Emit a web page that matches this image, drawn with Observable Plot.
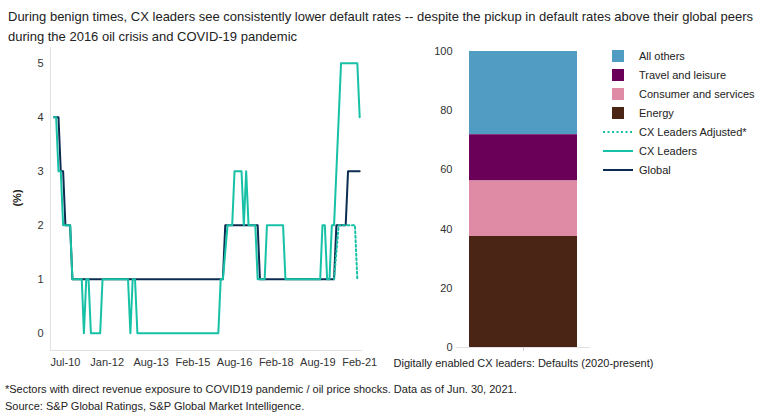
<!DOCTYPE html>
<html><head><meta charset="utf-8">
<script src="https://cdn.jsdelivr.net/npm/d3@7"></script>
<script src="https://cdn.jsdelivr.net/npm/@observablehq/plot@0.6"></script>
<style>
body{margin:0;background:#fff;font-family:"Liberation Sans",Arial,sans-serif;color:#222}
#wrap{position:relative;width:772px;height:417px;overflow:hidden;background:#fff}
.abs{position:absolute}
svg{overflow:visible}
.row{position:absolute;left:0;height:19px;display:flex;align-items:center;font-size:11px;white-space:nowrap}
.sw{width:30px;height:19px;display:flex;align-items:center;justify-content:center;margin-right:6px}
</style></head><body>
<div id="wrap">
  <div id="lineChart" class="abs" style="left:0;top:0"></div>
  <div id="barChart" class="abs" style="left:380px;top:0"></div>
  <div class="abs" style="left:8px;top:7px;font-size:13px;line-height:20px;white-space:nowrap">During benign times, CX leaders see consistently lower default rates -- despite the pickup in default rates above their global peers<br>during the 2016 oil crisis and COVID-19 pandemic</div>
  <div class="abs" style="left:17px;top:198px;width:0;height:0"><div style="position:absolute;transform:translate(-50%,-50%) rotate(-90deg);font-size:11px;font-weight:bold;white-space:nowrap">(%)</div></div>
  <div id="legend" class="abs" style="left:603px;top:46.5px;width:169px;height:140px"></div>
  <div class="abs" style="left:5px;top:380.5px;font-size:11px;line-height:17px;white-space:nowrap">*Sectors with direct revenue exposure to COVID19 pandemic / oil price shocks. Data as of Jun. 30, 2021.<br>Source: S&amp;P Global Ratings, S&amp;P Global Market Intelligence.</div>
</div>
<script>
// ---- Data ----
const cxDates = ["2010-02","2010-03","2010-04","2010-05","2010-06","2010-09","2010-10","2011-02","2011-03","2011-04","2011-05","2011-06","2011-10","2011-11","2012-10","2012-11","2012-12","2013-01","2013-02","2016-01","2016-02","2016-03","2016-05","2016-07","2016-08","2016-11","2016-12","2017-01","2017-02","2017-05","2017-06","2017-09","2017-10","2018-05","2018-06","2019-09","2019-10","2019-11","2019-12","2020-01","2020-02","2020-03","2020-06","2021-01","2021-02"];
const cxValues = [4,4,3,3,2,2,1,1,0,1,1,0,0,1,1,0,1,1,0,0,1,1,2,2,3,3,2,3,2,2,1,1,2,2,1,1,2,2,1,1,2,2,5,5,4];

const globalDates = ["2010-02","2010-04","2010-05","2010-06","2010-07","2010-09","2010-10","2016-03","2016-04","2017-06","2017-07","2020-03","2020-04","2020-08","2020-09","2021-02"];
const globalValues = [4,4,3,3,2,2,1,1,2,2,1,1,2,2,3,3];

const adjDates = ["2020-03","2020-05","2020-12","2021-01"];
const adjValues = [1,2,2,1];

const xTickDates = ["2010-07","2012-01","2013-08","2015-02","2016-08","2018-02","2019-08","2021-02"];
const yTicks = [0,1,2,3,4,5];

const barCategory = "Digitally enabled CX leaders: Defaults (2020-present)";
const sectors = ["All others","Travel and leisure","Consumer and services","Energy"];
const sectorShares = [28.125,15.625,18.75,37.5];
const sectorColors = ["#519cc3","#6b0058","#df8ba5","#4a2414"];
const barTicks = [0,20,40,60,80,100];

const seriesNames = ["CX Leaders Adjusted*","CX Leaders","Global"];
const teal = "#16c1a6", navy = "#0c2c52";

// ---- Build ----
const parse = d3.utcParse("%Y-%m");
const toRows = (ds, vs) => ds.map((d,i)=>({date: parse(d), value: vs[i]}));
const cx = toRows(cxDates, cxValues);
const glob = toRows(globalDates, globalValues);
const adj = toRows(adjDates, adjValues);

const xDomain = [new Date(Date.UTC(2009,11,17)), new Date(Date.UTC(2021,2,10))];
const yDomain = [-0.32, 5.29];
const font = {fontFamily:"Liberation Sans, Arial, sans-serif", fontSize:"11px", color:"#333", background:"transparent", overflow:"visible"};

const lineChart = Plot.plot({
  width: 380, height: 380,
  marginLeft: 50, marginRight: 18, marginTop: 47, marginBottom: 30,
  style: font,
  x: {type: "utc", domain: xDomain},
  y: {domain: yDomain},
  marks: [
    Plot.ruleX([xDomain[0]], {stroke: "#e2e2e2"}),
    Plot.ruleY([yDomain[0]], {stroke: "#e2e2e2"}),
    Plot.axisX({ticks: xTickDates.map(parse), tickFormat: d3.utcFormat("%b-%y"), tickSize: 0, tickPadding: 8, label: null}),
    Plot.axisY({ticks: yTicks, tickFormat: d3.format("d"), tickSize: 0, tickPadding: 7, label: null}),
    Plot.line(glob, {x: "date", y: "value", stroke: navy, strokeWidth: 2}),
    Plot.line(adj, {x: "date", y: "value", stroke: teal, strokeWidth: 2, strokeDasharray: "2,2.5"}),
    Plot.line(cx, {x: "date", y: "value", stroke: teal, strokeWidth: 2})
  ]
});
document.getElementById("lineChart").append(lineChart);

const barRows = sectors.map((s,i)=>({category: barCategory, sector: s, value: sectorShares[i]}));
const barChart = Plot.plot({
  width: 290, height: 380,
  marginLeft: 76, marginRight: 80, marginTop: 51, marginBottom: 33,
  style: font,
  x: {type: "band", domain: [barCategory], padding: 0.107},
  y: {domain: [0,100]},
  color: {domain: sectors, range: sectorColors},
  marks: [
    Plot.ruleY([0], {stroke: "#e2e2e2"}),
    Plot.barY(barRows, {x: "category", y: "value", fill: "sector", order: sectors.slice().reverse()}),
    Plot.axisX({tickSize: 4, stroke: "#d0d0d0", fill: "#222", tickPadding: 8, label: null}),
    Plot.axisY({ticks: barTicks, tickFormat: d3.format("d"), tickSize: 0, tickPadding: 4, label: null})
  ]
});
document.getElementById("barChart").append(barChart);

// ---- Legend ----
const legend = document.getElementById("legend");
const items = sectors.map((s,i)=>({name: s, kind: "box", color: sectorColors[i]}))
  .concat([
    {name: seriesNames[0], kind: "dash", color: teal},
    {name: seriesNames[1], kind: "line", color: teal},
    {name: seriesNames[2], kind: "line", color: navy}
  ]);
items.forEach((it,i)=>{
  const row = document.createElement("div");
  row.className = "row";
  row.style.top = (i*19) + "px";
  let sw;
  if (it.kind === "box") sw = `<div style="width:12px;height:12px;background:${it.color}"></div>`;
  else sw = `<svg width="30" height="4"><line x1="0" x2="30" y1="2" y2="2" stroke="${it.color}" stroke-width="2" ${it.kind==="dash"?'stroke-dasharray="2,2.5"':''}/></svg>`;
  row.innerHTML = `<div class="sw">${sw}</div><span>${it.name}</span>`;
  legend.append(row);
});
</script>
</body></html>
